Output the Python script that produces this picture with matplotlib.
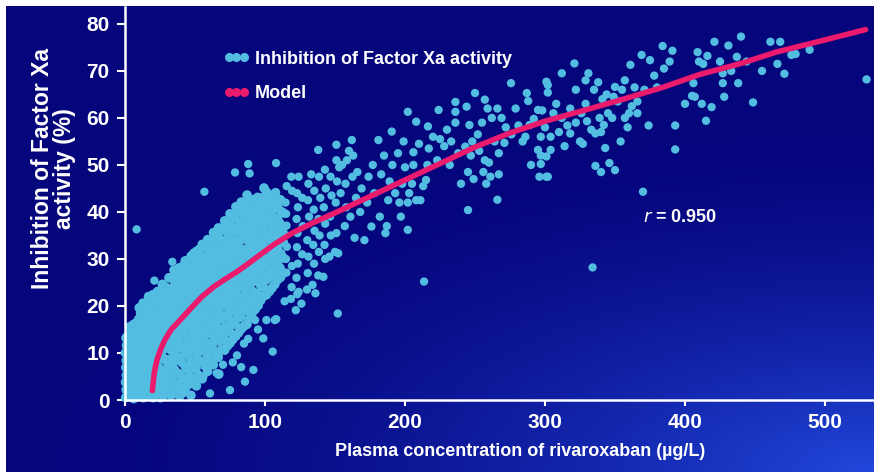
import numpy as np
import matplotlib
matplotlib.use("Agg")
import matplotlib.pyplot as plt
from matplotlib.lines import Line2D

# scatter points, (concentration, inhibition)
blob_low = [
    (0.5, 0.5), (0.8, 2.2), (0.4, 3.8), (1.0, 5.3), (0.6, 6.9), (0.9, 8.4), (0.3, 10.0), (1.1, 11.6), (0.7, 13.2),
    (3.2, 1.1), (2.8, 2.7), (3.5, 4.3), (3.0, 6.0), (2.6, 7.6), (3.4, 9.1), (3.1, 10.8), (2.9, 12.3), (3.3, 13.9), (3.6, 15.6),
    (6.2, 0.3), (5.8, 1.9), (6.5, 3.6), (6.1, 5.1), (5.7, 7.0), (6.4, 8.6), (6.0, 10.2), (6.6, 12.1), (5.9, 14.0), (6.3, 16.1),
    (9.4, 1.0), (9.8, 2.6), (9.2, 4.4), (9.9, 6.1), (9.5, 8.0), (9.1, 9.6), (9.7, 11.4), (10.0, 13.1), (9.3, 15.0), (9.8, 17.2), (10.2, 19.6),
    (13.1, 0.5), (12.7, 2.1), (13.4, 3.6), (12.9, 5.5), (13.3, 7.1), (12.8, 9.0), (13.5, 10.6), (13.0, 12.4), (12.6, 14.1), (13.2, 16.4), (13.6, 18.1), (12.9, 20.6),
    (16.4, 1.0), (16.8, 3.0), (16.2, 4.6), (16.9, 6.1), (16.5, 8.1), (16.1, 9.5), (16.7, 11.1), (16.3, 13.0), (16.9, 15.1), (16.4, 17.0), (16.0, 19.2), (16.8, 22.0),
    (20.1, 0.5), (19.7, 2.5), (20.4, 4.0), (19.9, 5.6), (20.3, 7.5), (19.6, 9.1), (20.2, 11.0), (19.8, 12.6), (20.5, 14.5), (20.0, 16.1), (19.7, 18.0), (20.3, 20.1), (19.9, 22.4),
    (23.4, 1.5), (23.8, 3.1), (23.2, 5.0), (23.9, 7.0), (23.5, 8.6), (23.1, 10.1), (23.7, 12.0), (23.3, 13.6), (23.9, 15.5), (23.6, 17.4), (23.0, 19.1), (23.8, 21.0), (23.4, 23.1),
    (27.1, 0.8), (26.7, 2.4), (27.4, 4.1), (26.9, 6.0), (27.2, 9.0), (26.6, 10.6), (27.5, 12.1), (27.0, 14.0), (26.8, 15.6), (27.3, 17.1), (26.9, 19.0), (27.6, 20.6), (27.1, 22.5), (26.7, 24.6),
    (31.0, 1.6), (30.6, 3.5), (31.3, 5.1), (30.8, 7.0), (31.4, 8.6), (30.9, 11.0), (31.2, 12.6), (30.7, 14.5), (31.5, 16.1), (31.0, 18.0), (30.6, 19.6), (31.3, 21.5), (30.9, 23.1), (31.4, 26.0),
    (35.0, 2.1), (34.6, 4.0), (35.3, 6.5), (34.8, 8.1), (35.4, 10.0), (34.9, 12.0), (35.2, 13.6), (34.7, 15.1), (35.5, 17.0), (35.1, 19.1), (34.6, 20.6), (35.3, 22.0), (34.9, 24.1), (35.4, 25.6), (35.0, 27.6),
    (39.1, 0.8), (38.7, 3.1), (39.4, 5.5), (38.9, 9.0), (39.3, 11.1), (38.6, 12.6), (39.5, 14.1), (39.0, 16.0), (38.8, 18.1), (39.4, 19.5), (39.1, 21.1), (38.7, 23.0), (39.3, 24.6), (39.0, 26.1), (38.6, 28.1),
    (43.0, 2.5), (42.6, 4.6), (43.3, 7.0), (42.9, 10.1), (43.4, 12.0), (42.8, 14.6), (43.2, 16.1), (42.7, 17.6), (43.5, 19.0), (43.0, 21.1), (42.6, 22.6), (43.3, 24.1), (42.9, 26.0), (43.4, 27.6), (43.0, 29.6),
    (47.1, 1.0), (46.7, 5.0), (47.4, 8.1), (46.9, 11.0), (47.3, 13.1), (46.6, 15.0), (47.5, 17.1), (47.0, 18.6), (46.8, 20.1), (47.4, 22.0), (47.1, 23.6), (46.7, 25.1), (47.3, 27.0), (46.9, 28.6), (47.2, 30.6),
    (51.0, 3.0), (50.6, 6.6), (51.3, 9.5), (50.8, 12.1), (51.4, 14.0), (50.9, 16.1), (51.2, 18.0), (50.7, 19.6), (51.5, 21.1), (51.0, 23.0), (50.6, 24.6), (51.3, 26.1), (50.9, 28.0), (51.4, 29.6), (51.0, 31.6),
    (55.1, 4.5), (54.7, 8.1), (55.4, 10.6), (54.9, 13.0), (55.3, 15.1), (54.6, 17.0), (55.5, 19.1), (55.0, 20.6), (54.8, 22.1), (55.4, 23.6), (55.1, 25.6), (54.7, 27.1), (55.3, 29.0), (54.9, 30.6), (55.2, 33.1),
    (59.0, 6.1), (58.6, 9.6), (59.3, 12.0), (58.8, 14.6), (59.4, 16.1), (58.9, 18.0), (59.2, 20.1), (58.7, 21.6), (59.5, 23.0), (59.0, 25.1), (58.6, 26.6), (59.3, 28.1), (58.9, 30.0), (59.4, 32.1), (59.0, 34.1),
]

blob_mid = [
    (63.1, 7.5), (62.7, 11.0), (63.4, 13.5), (62.9, 15.6), (63.3, 17.1), (62.6, 19.0), (63.5, 21.1), (63.0, 22.6), (62.8, 24.1), (63.4, 26.0), (63.1, 27.6), (62.7, 29.1), (63.3, 31.0), (62.9, 33.1), (63.2, 35.6),
    (67.0, 5.5), (66.6, 9.1), (67.3, 12.5), (66.8, 15.0), (67.4, 17.6), (66.9, 19.1), (67.2, 20.6), (66.7, 22.1), (67.5, 24.0), (67.0, 25.6), (66.6, 27.1), (67.3, 29.0), (66.9, 30.6), (67.4, 32.1), (67.0, 34.6), (66.7, 36.6),
    (71.1, 10.6), (70.7, 13.1), (71.4, 15.6), (70.9, 18.0), (71.3, 20.1), (70.6, 22.0), (71.5, 23.6), (71.0, 25.1), (70.8, 27.0), (71.4, 28.6), (71.1, 30.1), (70.7, 32.0), (71.3, 33.6), (70.9, 36.1), (71.2, 38.1),
    (75.0, 12.1), (74.6, 14.6), (75.3, 17.0), (74.8, 19.1), (75.4, 21.0), (74.9, 23.1), (75.2, 24.6), (74.7, 26.1), (75.5, 28.0), (75.0, 29.6), (74.6, 31.1), (75.3, 33.0), (74.9, 35.1), (75.4, 37.0), (75.0, 39.6),
    (79.1, 13.6), (78.7, 16.1), (79.4, 18.6), (78.9, 20.6), (79.3, 22.6), (78.6, 24.1), (79.5, 26.0), (79.0, 27.6), (78.8, 29.1), (79.4, 31.0), (79.1, 32.6), (78.7, 34.1), (79.3, 36.0), (78.9, 38.6), (79.2, 41.1),
    (83.0, 15.1), (82.6, 17.6), (83.3, 20.1), (82.8, 22.0), (83.4, 24.1), (82.9, 25.6), (83.2, 27.1), (82.7, 29.0), (83.5, 30.6), (83.0, 32.1), (82.6, 34.0), (83.3, 35.6), (82.9, 37.6), (83.4, 40.1), (83.0, 42.1),
    (87.1, 16.1), (86.7, 19.1), (87.4, 21.6), (86.9, 23.6), (87.3, 25.6), (86.6, 27.1), (87.5, 28.6), (87.0, 30.6), (86.8, 32.1), (87.4, 34.1), (87.1, 35.6), (86.7, 37.1), (87.3, 39.1), (86.9, 41.6), (87.2, 43.6),
    (91.0, 18.6), (90.6, 21.1), (91.3, 23.1), (90.8, 25.1), (91.4, 27.6), (90.9, 29.1), (91.2, 31.1), (90.7, 33.1), (91.5, 34.6), (91.0, 36.1), (90.6, 38.1), (91.3, 40.1), (90.9, 42.6),
    (95.1, 20.1), (94.7, 22.6), (95.4, 25.1), (94.9, 27.1), (95.3, 29.1), (94.6, 31.6), (95.5, 33.1), (95.0, 35.1), (94.8, 37.1), (95.4, 39.1), (95.1, 41.1), (94.7, 43.1),
    (99.0, 22.1), (98.6, 24.1), (99.3, 26.6), (98.8, 28.6), (99.4, 30.1), (98.9, 32.6), (99.2, 34.1), (98.7, 36.6), (99.5, 38.1), (99.0, 40.1), (98.6, 42.6), (99.3, 45.1),
    (103.1, 23.1), (102.7, 26.1), (103.4, 28.1), (102.9, 30.1), (103.3, 32.1), (102.6, 34.6), (103.5, 36.1), (103.0, 38.1), (102.8, 40.6), (103.4, 43.1),
    (107.0, 24.6), (106.6, 27.1), (107.3, 29.6), (106.8, 31.6), (107.4, 34.1), (106.9, 36.1), (107.2, 38.6), (106.7, 41.1), (107.5, 44.1),
    (111.1, 26.1), (110.7, 28.1), (111.4, 31.1), (110.9, 33.6), (111.3, 35.1), (110.6, 37.6), (111.5, 40.1), (111.0, 42.6),
]

# points between the columns above, the blob is almost solid in the picture
blob_fill = [
    (1.8, 1.5), (1.8, 4.6), (1.8, 7.7), (1.8, 10.8), (1.8, 13.5),
    (4.6, 0.6), (4.6, 3.2), (4.6, 6.8), (4.6, 9.9), (4.6, 12.9), (4.6, 15.0),
    (8.0, 1.8), (8.0, 4.9), (8.0, 8.3), (8.0, 11.2), (8.0, 14.6), (8.0, 16.4),
    (11.2, 0.7), (11.2, 3.9), (11.2, 7.0), (11.2, 10.2), (11.2, 13.3), (11.2, 16.2), (11.2, 18.5),
    (14.8, 1.9), (14.8, 5.1), (14.8, 8.2), (14.8, 11.5), (14.8, 14.9), (14.8, 17.6), (14.8, 19.5),
    (18.3, 0.9), (18.3, 3.8), (18.3, 6.9), (18.3, 10.1), (18.3, 13.6), (18.3, 16.8), (18.3, 19.9), (18.3, 21.2),
    (21.9, 2.0), (21.9, 5.3), (21.9, 8.0), (21.9, 11.3), (21.9, 14.2), (21.9, 17.1), (21.9, 20.0), (21.9, 22.6),
    (25.3, 0.5), (25.3, 3.6), (25.3, 6.5), (25.3, 9.8), (25.3, 12.9), (25.3, 16.3), (25.3, 19.6), (25.3, 22.9),
    (29.1, 2.2), (29.1, 5.5), (29.1, 8.4), (29.1, 11.8), (29.1, 14.8), (29.1, 17.9), (29.1, 21.0), (29.1, 24.0),
    (32.9, 1.0), (32.9, 4.3), (32.9, 7.6), (32.9, 10.6), (32.9, 13.9), (32.9, 17.2), (32.9, 20.3), (32.9, 23.5), (32.9, 26.0),
    (37.1, 2.4), (37.1, 5.8), (37.1, 8.9), (37.1, 12.0), (37.1, 15.3), (37.1, 18.4), (37.1, 21.6), (37.1, 24.7), (37.1, 27.1),
    (41.0, 1.5), (41.0, 4.6), (41.0, 7.9), (41.0, 11.2), (41.0, 14.2), (41.0, 17.3), (41.0, 20.5), (41.0, 23.8), (41.0, 26.9), (41.0, 28.4),
    (44.9, 3.2), (44.9, 6.5), (44.9, 9.5), (44.9, 12.8), (44.9, 16.0), (44.9, 19.2), (44.9, 22.3), (44.9, 25.5), (44.9, 28.7),
    (49.1, 4.1), (49.1, 7.3), (49.1, 10.5), (49.1, 13.6), (49.1, 16.9), (49.1, 20.1), (49.1, 23.3), (49.1, 26.4), (49.1, 29.5),
    (52.9, 5.2), (52.9, 8.4), (52.9, 11.6), (52.9, 14.9), (52.9, 18.1), (52.9, 21.2), (52.9, 24.4), (52.9, 27.6), (52.9, 30.8), (52.9, 32.0),
    (57.0, 7.3), (57.0, 10.6), (57.0, 13.7), (57.0, 17.0), (57.0, 20.2), (57.0, 23.4), (57.0, 26.6), (57.0, 29.8), (57.0, 32.6),
    (61.1, 8.5), (61.1, 11.8), (61.1, 15.1), (61.1, 18.3), (61.1, 21.5), (61.1, 24.6), (61.1, 27.9), (61.1, 31.0), (61.1, 33.9),
    (64.9, 9.6), (64.9, 12.9), (64.9, 16.2), (64.9, 19.4), (64.9, 22.6), (64.9, 25.8), (64.9, 29.1), (64.9, 32.2), (64.9, 35.0),
    (69.0, 10.7), (69.0, 14.0), (69.0, 17.3), (69.0, 20.6), (69.0, 23.8), (69.0, 27.0), (69.0, 30.2), (69.0, 33.4), (69.0, 36.5),
    (73.1, 11.5), (73.1, 14.8), (73.1, 18.0), (73.1, 21.3), (73.1, 24.6), (73.1, 27.8), (73.1, 31.0), (73.1, 34.3), (73.1, 37.4),
    (77.0, 12.9), (77.0, 16.2), (77.0, 19.4), (77.0, 22.7), (77.0, 25.9), (77.0, 29.2), (77.0, 32.4), (77.0, 35.7), (77.0, 38.9),
    (81.1, 14.3), (81.1, 17.6), (81.1, 20.8), (81.1, 24.0), (81.1, 27.3), (81.1, 30.5), (81.1, 33.8), (81.1, 37.0), (81.1, 40.2),
    (85.0, 15.7), (85.0, 19.0), (85.0, 22.2), (85.0, 25.5), (85.0, 28.7), (85.0, 32.0), (85.0, 35.2), (85.0, 38.5), (85.0, 41.3),
    (89.1, 17.4), (89.1, 20.6), (89.1, 23.9), (89.1, 27.1), (89.1, 30.4), (89.1, 33.6), (89.1, 36.9), (89.1, 40.0), (89.1, 42.2),
    (93.0, 19.3), (93.0, 22.5), (93.0, 25.8), (93.0, 29.0), (93.0, 32.3), (93.0, 35.5), (93.0, 38.8), (93.0, 41.5),
    (96.9, 21.2), (96.9, 24.4), (96.9, 27.7), (96.9, 30.9), (96.9, 34.2), (96.9, 37.4), (96.9, 40.6), (96.9, 43.0),
    (101.1, 22.4), (101.1, 25.6), (101.1, 28.9), (101.1, 32.1), (101.1, 35.3), (101.1, 38.6), (101.1, 41.7), (101.1, 44.2),
    (105.0, 23.8), (105.0, 27.0), (105.0, 30.3), (105.0, 33.5), (105.0, 36.8), (105.0, 40.0), (105.0, 42.5),
    (109.0, 25.6), (109.0, 28.8), (109.0, 32.0), (109.0, 35.3), (109.0, 38.5), (109.0, 41.2),
    (113.1, 27.0), (113.1, 30.2), (113.1, 33.5), (113.1, 36.7), (113.1, 39.8),
]

loose_low = [
    (56, 5), (65.5, 5.7), (60.7, 1.4), (75, 2.1), (77, 8), (80, 9.5), (83, 7), (85.7, 3.9), (91.7, 6.4),
    (98.8, 13.1), (105.5, 10.3), (108, 17.2), (92.9, 17), (88, 13), (85, 12), (95, 15), (101, 17), (70, 7.5),
    (114, 21), (107, 17), (124, 23),
]

loose_high = [
    (8.3, 36.3), (21, 25.4), (33.8, 29.4), (48.8, 31.3), (56.7, 44.3), (78.6, 48.4), (88, 50.2), (89, 48.2),
    (97.6, 42.9), (90.5, 40), (107.9, 50.4), (61, 31.2),
]

cloud_a = [
    (115.3, 27.1), (115.0, 30.0), (115.6, 32.6), (114.8, 35.1), (115.4, 37.1), (115.1, 39.6), (114.7, 42.0), (115.5, 45.5),
    (118.5, 21.5), (119, 24), (119.3, 44.5), (118.8, 47.5), (119.2, 28.5),
    (122, 19.1), (123, 22.5), (122.5, 26), (123.4, 29), (122.8, 32.5), (123.2, 35.5), (122.6, 38.5), (123.5, 41), (122.9, 44), (124, 47.5),
    (126, 20.5), (126.5, 31), (127, 37), (126.6, 43),
    (130, 23.5), (130.5, 27), (131, 30.5), (130.2, 34), (131.5, 39), (130.7, 42.5), (131, 46),
    (134, 24.5), (135, 29), (134.5, 33), (135.4, 36), (134.8, 40.5), (135.2, 44.5), (136, 22.7), (133, 48),
    (138, 26.5), (138.5, 31.5), (139, 35), (138.2, 38.5), (139.5, 43), (138.6, 47.5), (138, 53.2),
    (141.7, 26.2), (142.5, 33), (143, 37.5), (142, 41), (143.4, 45), (142.8, 49), (143, 30),
    (146, 30.5), (147, 35), (146.5, 39), (147.5, 43.5), (146.8, 47.5), (150, 31.5), (151, 35.5), (150.5, 42),
    (151.5, 46.5), (151, 51), (151, 54.3), (152, 18.4), (153, 49.5), (155, 50), (154, 44), (152.3, 31.2),
    (157, 37), (158, 41), (157.5, 46), (158.5, 51), (160, 53), (162, 55.3), (162.5, 47.5), (163, 52),
    (164, 34.5), (161, 39), (165, 43), (166, 48.5), (168, 40), (169, 45), (171, 34),
    (173, 42), (174, 47.5), (176, 36.9), (177, 50), (178, 44), (181, 55.3), (182, 39), (183, 48),
    (186, 35.5), (187, 37), (188, 42.5), (189, 46.5), (190.5, 57.1), (185, 52), (191, 50),
    (195, 52.5), (196, 42), (198, 46), (202, 36.2), (202, 42), (202, 61.3), (200, 49.5), (203, 44),
    (205, 46), (206, 50), (199, 55), (193, 44), (197, 39), (208, 42.5),
]

cloud_b = [
    (208, 59.2), (216.4, 58.2), (213, 45.5), (215, 46.8), (211, 42.5), (206, 52.7), (210, 54.5), (217, 53.5),
    (225, 55.5), (216, 50), (223, 51), (224, 61.7), (230, 57.5), (236, 59), (236, 63.4), (236, 61.3),
    (232, 50), (238, 52.5), (243, 53.9), (240, 46), (244, 62.4), (245, 48.5), (249, 47), (245, 40.4),
    (250, 65.3), (252, 56.5), (255, 59), (257, 63.9), (259, 62), (262, 60), (257, 51), (267, 52.5),
    (258, 46), (261, 47.5), (256, 48.5), (260, 50.5), (267, 48), (266, 42.6), (266, 62), (269, 60),
    (271, 54.7), (276, 56.5), (281, 58.4), (275.7, 67.4), (287, 65.3), (288, 63.6), (295, 61.7), (297, 52),
    (297, 50.2), (296, 47.5), (302, 47.5), (289, 58.5), (292, 59.8), (298, 61.6), (300, 58),
    (302, 67), (302, 65.4), (304, 53.2), (279, 62), (284, 55), (272, 58), (264, 55), (248, 55), (228, 54),
    (220, 56), (246, 58.5), (290, 50), (286, 56), (213.6, 25.2), (247, 52), (253, 53), (233, 55),
]

cloud_c = [
    (301, 67.7), (304, 56), (297, 56), (295, 53.2), (301, 51.8), (301, 47.5), (312, 69.5), (314, 54),
    (316, 58.4), (318, 56.7), (318, 62), (321, 71.6), (322, 66), (322, 59), (325, 55), (327, 54.5),
    (329, 68), (331, 69.5), (329, 63), (330, 59.3), (335, 66), (336, 56.7), (336, 49.8), (338, 67.6),
    (339, 60), (340, 57), (341, 64), (340, 48.5), (343, 53.6), (342, 58.5), (344, 65), (346, 50.4),
    (348, 60), (349, 64.5), (350, 66.6), (350, 48.9), (352, 63.5), (354, 55), (357, 60), (357, 68),
    (359, 58), (360, 61), (361, 71.3), (362, 62.5), (366, 61), (366, 63.5), (369, 73.4), (370, 44.3),
    (375, 72.3), (374, 58.4), (378, 69), (384, 75.3), (385, 70.5), (389, 72), (391, 74.3), (393, 58.4),
    (393, 53.3), (400, 63), (405, 64.7), (409, 74), (410, 72), (406, 67.4), (407, 64.5), (413, 71.5),
    (416, 73.2), (415, 59.4), (419, 62.3), (412, 63), (334, 28.2), (308, 63), (312, 60), (326, 61),
    (333, 57.5), (345, 61), (355, 66), (364, 66.5), (371, 66), (380, 66.5), (310, 57), (306, 61),
]

cloud_d = [
    (421, 76.2), (425, 72), (427, 69.5), (427, 67.4), (428, 64.5), (431, 75.4), (437, 73), (438, 67.4),
    (440, 77.3), (448.6, 63.3), (461, 76.2), (468, 76.2), (466, 71.5), (471, 69.4), (476, 73.4),
    (479, 73.6), (489, 74.5), (529.7, 68.2), (433, 70), (455, 70), (444, 72),
]

# model curve
model_conc = [19.5, 21, 23, 25.5, 28.5, 33, 40, 47, 55, 63, 71, 80, 88, 97, 107, 120, 135, 150, 175,
              200, 225, 250, 275, 300, 330, 356, 385, 410, 440, 465, 500, 529]
model_inh = [2.0, 6.0, 8.7, 10.8, 12.8, 15.0, 17.2, 19.5, 22.0, 24.0, 25.6, 27.3, 29.0, 31.0, 33.2,
             35.6, 37.8, 39.8, 43.3, 46.8, 50.3, 53.8, 56.8, 59.3, 61.8, 64.0, 66.6, 69.2, 71.6, 74.0, 76.6, 78.8]

xticks = [0, 100, 200, 300, 400, 500]
yticks = [0, 10, 20, 30, 40, 50, 60, 70, 80]

cyan = '#52bde0'
pink = '#ea1a6c'
font = ['Liberation Sans', 'DejaVu Sans']

dense = np.array(blob_low + blob_mid + blob_fill)
sparse = np.array(loose_low + loose_high + cloud_a + cloud_b + cloud_c + cloud_d)

fig = plt.figure(figsize=(8.74, 4.72), dpi=100, facecolor='white')

# blue slide background
bg = fig.add_axes([6 / 874, 0, 868 / 874, 466 / 472])
bg.set_axis_off()
u, v = np.meshgrid(np.linspace(0, 1, 300), np.linspace(0, 1, 200))
d = np.sqrt(((1 - u) * 1.0) ** 2 + ((1 - v) * 1.3) ** 2)
t = np.clip(1 - d / 0.95, 0, 1) ** 1.6
dark = np.array([0.02, 0.02, 0.49])
bright = np.array([0.13, 0.28, 0.86])
img = dark[None, None, :] + t[:, :, None] * (bright - dark)[None, None, :]
bg.imshow(img, aspect='auto', extent=[0, 1, 1, 0])

ax = fig.add_axes([125 / 874, 72 / 472, 749 / 874, 393 / 472])
ax.set_facecolor('none')
# the packed points overlap into one mass in the picture
ax.scatter(dense[:, 0], dense[:, 1], s=48, color=cyan, edgecolors='none', zorder=2, clip_on=False)
ax.scatter(sparse[:, 0], sparse[:, 1], s=36, color=cyan, edgecolors='none', zorder=2, clip_on=False)
ax.plot(model_conc, model_inh, color=pink, lw=4, solid_capstyle='round', zorder=3)

ax.set_xlim(0, 535)
ax.set_ylim(0, 83.6)
ax.set_xticks(xticks)
ax.set_yticks(yticks)
for s in ['top', 'right']:
    ax.spines[s].set_visible(False)
for s in ['left', 'bottom']:
    ax.spines[s].set_color('white')
    ax.spines[s].set_linewidth(1.8)
    ax.spines[s].set_zorder(4)
ax.tick_params(axis='y', colors='white', length=6, width=1.5, pad=5)
ax.tick_params(axis='x', colors='white', length=4, width=1.5, pad=5)
for lab in ax.get_xticklabels() + ax.get_yticklabels():
    lab.set_family(font)
    lab.set_fontsize(15)
    lab.set_fontweight('bold')

ax.text(0.527, -0.132, 'Plasma concentration of rivaroxaban (µg/L)', transform=ax.transAxes,
        color='white', fontsize=13, family=font, fontweight='bold', ha='center', va='center')
ax.text(-0.096, 0.59, 'Inhibition of Factor Xa\nactivity (%)', transform=ax.transAxes,
        rotation=90, ha='center', va='center', multialignment='center', color='white',
        fontsize=16.5, fontweight='bold', family=font, linespacing=0.95)

ax.text(0.692, 0.465, '$\\mathit{r}$ = 0.950', transform=ax.transAxes, color='white',
        fontsize=13, family=font, fontweight='bold', ha='left', va='center')

handles = [Line2D([], [], ls='none', marker='o', markersize=5.5, color=cyan),
           Line2D([], [], ls='none', marker='o', markersize=5.5, color=pink)]
leg = ax.legend(handles, ['Inhibition of Factor Xa activity', 'Model'], numpoints=3,
                loc='upper left', bbox_to_anchor=(0.11, 0.93), frameon=False,
                handlelength=1.4, handletextpad=0.35, labelspacing=0.95,
                prop={'family': font, 'size': 13, 'weight': 'bold'})
for txt in leg.get_texts():
    txt.set_color('white')

fig.savefig('out.png', dpi=100, facecolor='white')
